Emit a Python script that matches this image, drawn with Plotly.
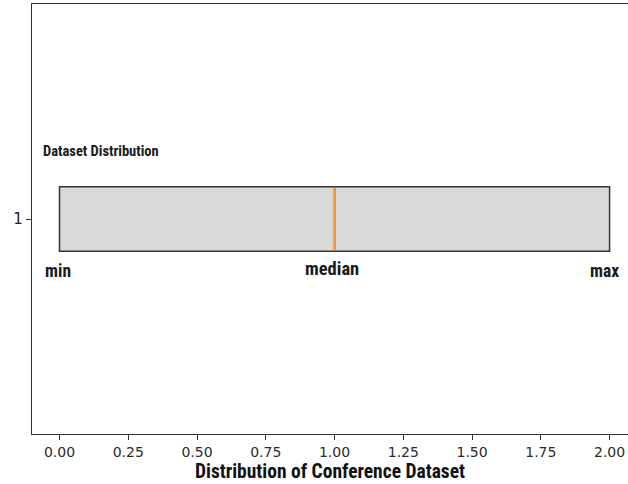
import plotly.graph_objects as go

# data
positions = [1]
q1_vals = [0.0]
median_vals = [1.0]
q3_vals = [2.0]
min_vals = [0.0]
max_vals = [2.0]
x_ticks = [0.0, 0.25, 0.5, 0.75, 1.0, 1.25, 1.5, 1.75, 2.0]
x_tick_labels = ["0.00", "0.25", "0.50", "0.75", "1.00", "1.25", "1.50", "1.75", "2.00"]
y_ticks = [1]
y_tick_labels = ["1"]
box_width = 0.15

fig = go.Figure()
fig.add_trace(go.Box(
    y=positions, q1=q1_vals, median=median_vals, q3=q3_vals,
    lowerfence=min_vals, upperfence=max_vals,
    orientation="h", width=box_width, whiskerwidth=0.5,
    fillcolor="#d9d9d9", line=dict(color="#333333", width=1.5),
    hoverinfo="skip", showlegend=False,
))
# median line (orange)
fig.add_trace(go.Scatter(
    x=[median_vals[0], median_vals[0]],
    y=[positions[0] - box_width / 2, positions[0] + box_width / 2],
    mode="lines", line=dict(color="#ff9433", width=1.1),
    hoverinfo="skip", showlegend=False,
))

cond = "Roboto Condensed, Open Sans Condensed, sans-serif"
fig.add_annotation(x=-0.068, y=1.158, text="<b>Dataset Distribution</b>", showarrow=False,
                   xanchor="left", yanchor="middle", font=dict(family=cond, size=14.5, color="#1a1a1a"))
fig.add_annotation(x=min_vals[0] - 0.005, y=0.878, text="<b>min</b>", showarrow=False,
                   xanchor="center", yanchor="middle", font=dict(family=cond, size=17.5, color="#1a1a1a"))
fig.add_annotation(x=median_vals[0] - 0.01, y=0.883, text="<b>median</b>", showarrow=False,
                   xanchor="center", yanchor="middle", font=dict(family=cond, size=18.5, color="#1a1a1a"))
fig.add_annotation(x=max_vals[0] - 0.02, y=0.878, text="<b>max</b>", showarrow=False,
                   xanchor="center", yanchor="middle", font=dict(family=cond, size=17.5, color="#1a1a1a"))

fig.update_layout(
    width=628, height=484,
    margin=dict(l=32, r=0, t=4, b=50),
    plot_bgcolor="white", paper_bgcolor="white",
    xaxis=dict(
        range=[-0.1, 2.067], tickvals=x_ticks, ticktext=x_tick_labels,
        showgrid=False, zeroline=False, showline=True, mirror=True, automargin=False,
        linecolor="#333333", linewidth=1.2, ticks="outside", ticklen=5, tickcolor="#333333",
        tickfont=dict(family="DejaVu Sans", size=14, color="#2b2b2b"),
        title=dict(text="<b>Distribution of Conference Dataset</b>",
                   font=dict(family=cond, size=19.5, color="#111"), standoff=2),
    ),
    yaxis=dict(
        range=[0.5, 1.5], tickvals=y_ticks, ticktext=y_tick_labels,
        showgrid=False, zeroline=False, showline=True, mirror=False, automargin=False,
        linecolor="#333333", linewidth=1.2, ticks="outside", ticklen=5, tickcolor="#333333",
        tickfont=dict(family="DejaVu Sans", size=15, color="#222"),
    ),
)
fig.write_html(
    "out.html",
    config={"displayModeBar": False},
    post_script="document.body.style.margin='0';document.body.style.overflow='hidden';",
)
